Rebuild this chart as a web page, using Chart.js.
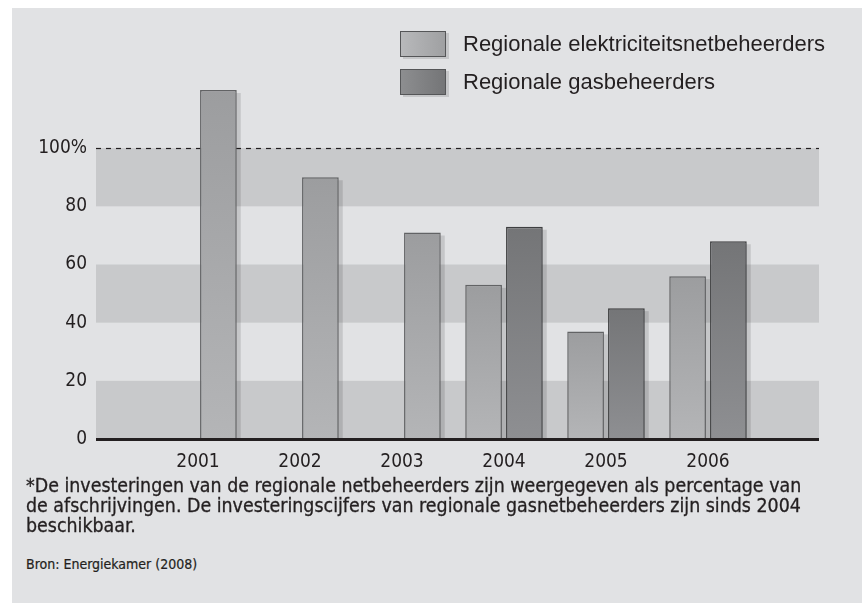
<!DOCTYPE html>
<html>
<head>
<meta charset="utf-8">
<script src="https://cdn.jsdelivr.net/npm/chart.js@4.4.1/dist/chart.umd.min.js"></script>
<style>
  body { margin: 0; background: #fff; width: 864px; height: 603px; position: relative; overflow: hidden; }
  #panel { position: absolute; left: 12px; top: 8px; width: 850px; height: 595px; background: #e1e2e4; }
  #chart { position: absolute; left: 0; top: 0; }
  .leg { position: absolute; left: 400px; height: 26px; font: 22px "Liberation Sans", Arial, sans-serif; color: #231f20; }
  .leg .sw { position: absolute; left: 0; top: 0; width: 44px; height: 24px; border: 1px solid #555658; box-shadow: 3px 2px 0 rgba(0,0,0,0.12); }
  .leg .txt { position: absolute; left: 63px; top: 0; line-height: 26px; white-space: nowrap; }
  #note { position: absolute; left: 26px; top: 476px; font: 19.4px "DejaVu Sans Condensed", "DejaVu Sans", sans-serif; line-height: 20px; color: #231f20; white-space: nowrap; -webkit-text-stroke: 0.3px #231f20; }
  #source { position: absolute; left: 26px; top: 555px; font: 14px "DejaVu Sans Condensed", "DejaVu Sans", sans-serif; line-height: 18px; color: #231f20; -webkit-text-stroke: 0.2px #231f20; }
</style>
</head>
<body>
<div id="panel"></div>
<canvas id="chart" width="864" height="480"></canvas>
<div class="leg" style="top:31px"><div class="sw" style="background:linear-gradient(to right,#b8b9bb,#9fa0a2)"></div><div class="txt">Regionale elektriciteitsnetbeheerders</div></div>
<div class="leg" style="top:69px"><div class="sw" style="background:linear-gradient(to right,#8d8e90,#747577)"></div><div class="txt">Regionale gasbeheerders</div></div>
<div id="note">*De investeringen van de regionale netbeheerders zijn weergegeven als percentage van<br>de afschrijvingen. De investeringscijfers van regionale gasnetbeheerders zijn sinds 2004<br>beschikbaar.</div>
<div id="source">Bron: Energiekamer (2008)</div>
<script>
const years = ["2001", "2002", "2003", "2004", "2005", "2006"];
const elecValues = [120, 90, 71, 53, 37, 56];
const gasValues = [null, null, null, 73, 45, 68];
const yTicks = [0, 20, 40, 60, 80, 100];

const ink = "#231f20";
const narrow = '"DejaVu Sans Condensed", "DejaVu Sans", sans-serif';

// empty slots on both ends so the years sit one step in from the edges
const labels = [""].concat(years, [""]);
const pad = arr => [null].concat(arr, [null]);

// single bars (no gas figure yet) sit in the right slot, like the original
const elecLate = elecValues.map((v, i) => gasValues[i] == null ? null : v);
const elecEarly = elecValues.map((v, i) => gasValues[i] == null ? v : null);

function barGradient(top, bottom, fallback) {
  return ctx => {
    const c = ctx.chart;
    if (ctx.type !== "data" || ctx.raw == null || !c.chartArea) return fallback;
    const y = c.scales.y;
    const g = c.ctx.createLinearGradient(0, y.getPixelForValue(ctx.raw), 0, y.getPixelForValue(0));
    g.addColorStop(0, top);
    g.addColorStop(1, bottom);
    return g;
  };
}

const elecFill = barGradient("#9c9d9f", "#b4b5b7", "#a9aaac");
const gasFill = barGradient("#747577", "#8e8f92", "#828385");

const bands = {
  id: "bands",
  beforeDatasetsDraw(chart) {
    const { ctx, chartArea: a, scales: { y } } = chart;
    const right = a.right + 9;
    ctx.save();
    ctx.fillStyle = "#c8c9cb";
    [0, 40, 80].forEach(v => {
      const t = y.getPixelForValue(v + 20), b = y.getPixelForValue(v);
      ctx.fillRect(a.left, t, right - a.left, b - t);
    });
    ctx.strokeStyle = ink;
    ctx.lineWidth = 1.2;
    ctx.setLineDash([5, 5]);
    ctx.beginPath();
    const y100 = Math.round(y.getPixelForValue(100)) + 0.5;
    ctx.moveTo(a.left, y100);
    ctx.lineTo(right, y100);
    ctx.stroke();
    ctx.setLineDash([]);
    // bar shadows
    ctx.fillStyle = "rgba(0,0,0,0.12)";
    chart.data.datasets.forEach((ds, di) => {
      chart.getDatasetMeta(di).data.forEach((el, i) => {
        if (ds.data[i] == null) return;
        ctx.fillRect(el.x - el.width / 2 + 4, el.y + 3, el.width, el.base - el.y - 3);
      });
    });
    ctx.restore();
  },
  afterDatasetsDraw(chart) {
    const { ctx, chartArea: a, scales: { y } } = chart;
    ctx.save();
    ctx.strokeStyle = ink;
    ctx.lineWidth = 3;
    ctx.beginPath();
    const y0 = y.getPixelForValue(0) + 0.5;
    ctx.moveTo(a.left, y0);
    ctx.lineTo(a.right + 9, y0);
    ctx.stroke();
    ctx.restore();
  }
};

new Chart(document.getElementById("chart"), {
  type: "bar",
  data: {
    labels: labels,
    datasets: [
      { label: "Regionale elektriciteitsnetbeheerders", data: pad(elecLate), stack: "left",
        backgroundColor: elecFill, borderColor: "#626365", borderWidth: 1.5 },
      { label: "Regionale elektriciteitsnetbeheerders", data: pad(elecEarly), stack: "right",
        backgroundColor: elecFill, borderColor: "#626365", borderWidth: 1.5 },
      { label: "Regionale gasbeheerders", data: pad(gasValues), stack: "right",
        backgroundColor: gasFill, borderColor: "#3e3f41", borderWidth: 1.5 }
    ]
  },
  options: {
    responsive: false,
    animation: false,
    layout: { padding: { top: 90, right: 54, left: 0, bottom: 0 } },
    plugins: { legend: { display: false }, tooltip: { enabled: false } },
    scales: {
      x: {
        stacked: true,
        offset: false,
        grid: { display: false, drawTicks: false },
        border: { display: false },
        ticks: { color: ink, font: { family: narrow, size: 19 }, padding: 12, maxRotation: 0, autoSkip: false },
        afterFit: s => { s.height = 41; }
      },
      y: {
        stacked: false,
        min: 0,
        max: 120,
        grid: { display: false, drawTicks: false },
        border: { display: false },
        afterBuildTicks: s => { s.ticks = yTicks.map(v => ({ value: v })); },
        ticks: {
          color: ink,
          font: { family: narrow, size: 19 },
          padding: 9,
          callback: v => v === 100 ? "100%" : String(v)
        },
        afterFit: s => { s.width = 96; }
      }
    }
  },
  plugins: [bands]
});
</script>
</body>
</html>
